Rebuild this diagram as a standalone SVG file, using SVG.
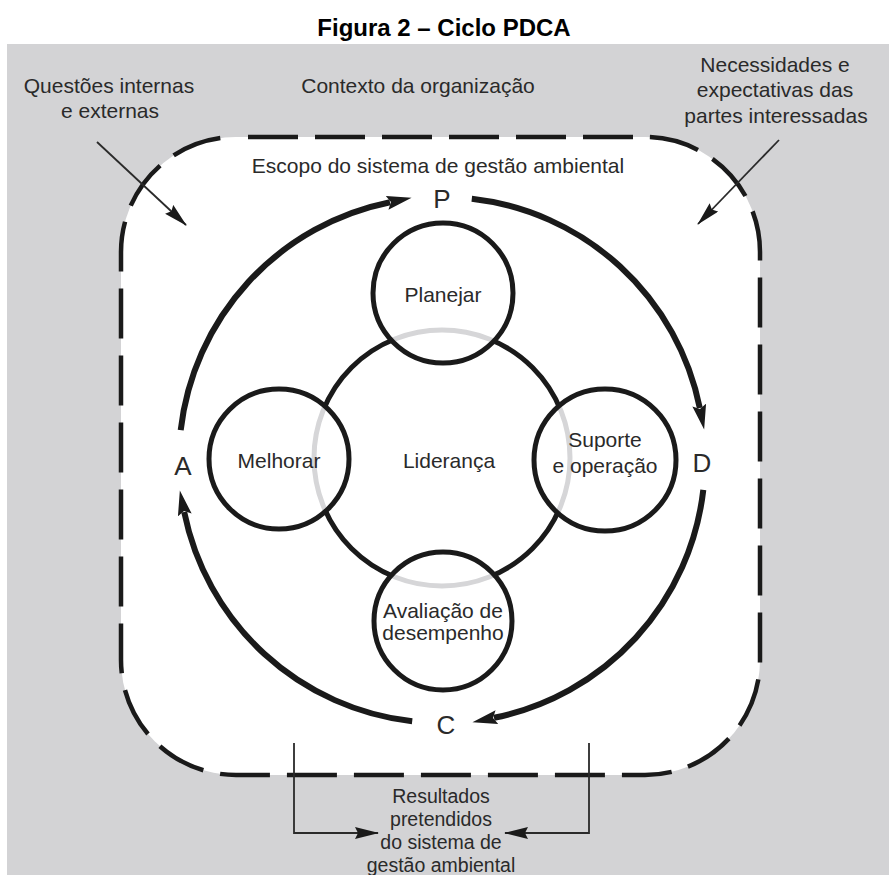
<svg xmlns="http://www.w3.org/2000/svg" width="889" height="875" viewBox="0 0 889 875">
  <style>
    .title { font-family: "Liberation Sans", Arial, sans-serif; font-size: 24px; font-weight: bold; fill: #000; }
    .lbl { font-family: "Liberation Sans", Arial, sans-serif; font-size: 21px; fill: #2a2a2a; text-anchor: middle; }
    .big { font-family: "Liberation Sans", Arial, sans-serif; font-size: 26px; fill: #2a2a2a; text-anchor: middle; }
    .small { font-size: 19.5px; }
    .arc { fill: none; stroke: #1a1a1a; stroke-width: 6; }
    .fillw { fill: #fff; }
    .ring { fill: none; stroke: #1a1a1a; stroke-width: 5; }
    .ghost { fill: none; stroke: #d6d6d8; stroke-width: 5; }
    .edge { fill: none; stroke: #1a1a1a; stroke-width: 5; }
    .thin { fill: none; stroke: #2a2a2a; stroke-width: 1.8; }
  </style>
  <defs>
    <marker id="headBig" markerUnits="userSpaceOnUse" markerWidth="30" markerHeight="16" refX="3" refY="7" orient="auto">
      <path d="M0,0 L25,7 L0,14 L4,7 z" fill="#1a1a1a"/>
    </marker>
    <marker id="headThin" markerUnits="userSpaceOnUse" markerWidth="28" markerHeight="14" refX="23" refY="6" orient="auto">
      <path d="M0,0 L24,6 L0,12 L3,6 z" fill="#1a1a1a"/>
    </marker>
    <clipPath id="inP"><circle cx="443" cy="293" r="68"/></clipPath>
    <clipPath id="inM"><circle cx="279" cy="459" r="68"/></clipPath>
    <clipPath id="inS"><circle cx="605" cy="460" r="69"/></clipPath>
    <clipPath id="inA"><circle cx="443" cy="621" r="67"/></clipPath>
  </defs>

  <rect width="889" height="875" fill="#fff"/>
  <text class="title" x="444" y="36" text-anchor="middle">Figura 2 – Ciclo PDCA</text>

  <!-- organisation context -->
  <rect id="context" x="7" y="44" width="882" height="831" fill="#d3d3d5"/>
  <text class="lbl" x="109" y="93">Questões internas</text>
  <text class="lbl" x="110" y="118">e externas</text>
  <text class="lbl" x="418" y="93">Contexto da organização</text>
  <text class="lbl" x="775" y="72">Necessidades e</text>
  <text class="lbl" x="775" y="97">expectativas das</text>
  <text class="lbl" x="776" y="123">partes interessadas</text>

  <!-- EMS scope boundary -->
  <g id="scope">
    <path d="M236,137 H645 A115,115 0 0 1 760,252 V660 A115,115 0 0 1 645,775 H236 A115,115 0 0 1 121,660 V252 A115,115 0 0 1 236,137 Z"
          fill="#fff" stroke="#1a1a1a" stroke-width="4.5" stroke-dasharray="50 17" stroke-dashoffset="55"/>
    <text class="lbl" x="438" y="173">Escopo do sistema de gestão ambiental</text>
  </g>

  <!-- connectors -->
  <g id="connectors">
    <line class="thin" x1="97" y1="142" x2="186" y2="225" marker-end="url(#headThin)"/>
    <line class="thin" x1="779" y1="140" x2="698" y2="224" marker-end="url(#headThin)"/>
    <path class="thin" d="M294,743 V833 H378" marker-end="url(#headThin)"/>
    <path class="thin" d="M589,743 V833 H505" marker-end="url(#headThin)"/>
    <!-- PDCA cycle -->
    <path class="arc" d="M471.8,198.7 A263,263 0 0 1 699.8,408" marker-end="url(#headBig)"/>
    <path class="arc" d="M703.3,489.8 A263,263 0 0 1 494,717.8" marker-end="url(#headBig)"/>
    <path class="arc" d="M412.2,721.3 A263,263 0 0 1 184.2,512" marker-end="url(#headBig)"/>
    <path class="arc" d="M180.7,430.2 A263,263 0 0 1 390,202.2" marker-end="url(#headBig)"/>
  </g>

  <g id="phases">
    <text class="big" x="442" y="208">P</text>
    <text class="big" x="702" y="472">D</text>
    <text class="big" x="446" y="734">C</text>
    <text class="big" x="183" y="475">A</text>
  </g>

  <!-- leadership ring -->
  <g id="lideranca">
    <circle class="ring" cx="442" cy="458" r="128"/>
    <text class="lbl" x="449" y="468">Liderança</text>
  </g>

  <!-- process circles; the ring shows faintly through each one -->
  <g id="planejar">
    <circle class="fillw" cx="443" cy="293" r="70"/>
    <circle class="ghost" cx="442" cy="458" r="128" clip-path="url(#inP)"/>
    <circle class="edge" cx="443" cy="293" r="70"/>
    <text class="lbl" x="443" y="302">Planejar</text>
  </g>
  <g id="melhorar">
    <circle class="fillw" cx="279" cy="459" r="70"/>
    <circle class="ghost" cx="442" cy="458" r="128" clip-path="url(#inM)"/>
    <circle class="edge" cx="279" cy="459" r="70"/>
    <text class="lbl" x="279" y="468">Melhorar</text>
  </g>
  <g id="suporte">
    <circle class="fillw" cx="605" cy="460" r="71"/>
    <circle class="ghost" cx="442" cy="458" r="128" clip-path="url(#inS)"/>
    <circle class="edge" cx="605" cy="460" r="71"/>
    <text class="lbl" x="605" y="447">Suporte</text>
    <text class="lbl" x="605" y="473">e operação</text>
  </g>
  <g id="avaliacao">
    <circle class="fillw" cx="443" cy="621" r="69"/>
    <circle class="ghost" cx="442" cy="458" r="128" clip-path="url(#inA)"/>
    <circle class="edge" cx="443" cy="621" r="69"/>
    <text class="lbl" x="443" y="618">Avaliação de</text>
    <text class="lbl" x="443" y="640">desempenho</text>
  </g>

  <g id="resultados">
    <text class="lbl small" x="441" y="803">Resultados</text>
    <text class="lbl small" x="441" y="826">pretendidos</text>
    <text class="lbl small" x="441" y="849">do sistema de</text>
    <text class="lbl small" x="441" y="872">gestão ambiental</text>
  </g>
</svg>
